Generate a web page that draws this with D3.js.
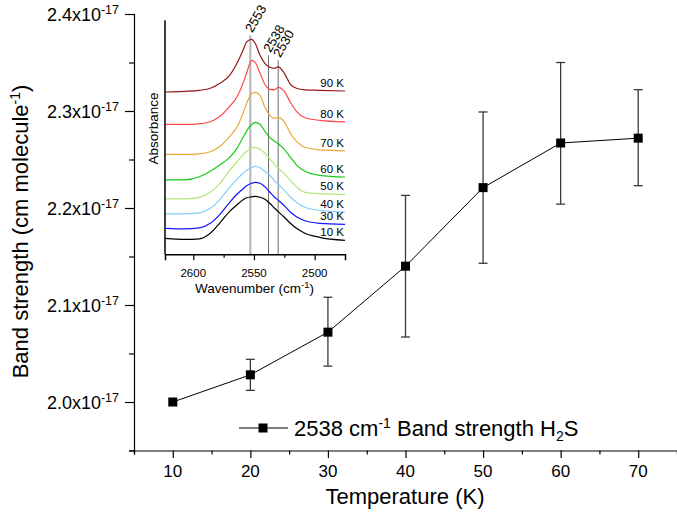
<!DOCTYPE html>
<html><head><meta charset="utf-8">
<script src="https://cdn.jsdelivr.net/npm/d3@7"></script>
<style>
body{margin:0;background:#fff;}
svg{display:block;font-family:"Liberation Sans",Arial,sans-serif;}
</style></head><body>
<svg id="chart" width="677" height="517"></svg>
<script>
// ---- main chart data (band strength in units of 1e-17 cm molecule^-1)
const temperatures = [10, 20, 30, 40, 50, 60, 70];
const bandStrength = [2.000, 2.028, 2.072, 2.140, 2.221, 2.267, 2.272];
const errUpper = [0, 0.016, 0.036, 0.073, 0.078, 0.083, 0.050];
const errLower = [0, 0.016, 0.035, 0.073, 0.078, 0.063, 0.049];
const xTickValues = [10, 20, 30, 40, 50, 60, 70];
const yTickValues = [2.0, 2.1, 2.2, 2.3, 2.4];
const yTickExponent = "-17";

// ---- inset spectra data (absorbance, arbitrary units incl. offsets)
const wavenumbers = [2623, 2607, 2595, 2586, 2578, 2570, 2564, 2559, 2556, 2552, 2549, 2545, 2541, 2537, 2533, 2530, 2525, 2520, 2515, 2508, 2496, 2475];
const spectrumLabels = ["10 K", "30 K", "40 K", "50 K", "60 K", "70 K", "80 K", "90 K"];
const abs10K = [0.16, 0.15, 0.155, 0.21, 0.315, 0.43, 0.495, 0.545, 0.565, 0.575, 0.58, 0.57, 0.55, 0.51, 0.46, 0.427, 0.37, 0.31, 0.26, 0.21, 0.17, 0.14];
const abs30K = [0.26, 0.255, 0.265, 0.31, 0.40, 0.52, 0.60, 0.655, 0.685, 0.71, 0.72, 0.71, 0.675, 0.623, 0.57, 0.54, 0.485, 0.423, 0.375, 0.335, 0.31, 0.30];
const abs40K = [0.405, 0.405, 0.415, 0.46, 0.55, 0.67, 0.75, 0.81, 0.84, 0.865, 0.88, 0.865, 0.83, 0.79, 0.735, 0.70, 0.64, 0.573, 0.52, 0.47, 0.44, 0.423];
const abs50K = [0.555, 0.555, 0.57, 0.62, 0.71, 0.84, 0.925, 0.995, 1.03, 1.06, 1.07, 1.05, 1.01, 0.957, 0.90, 0.865, 0.805, 0.74, 0.675, 0.62, 0.607, 0.60];
const abs60K = [0.745, 0.745, 0.775, 0.83, 0.895, 0.97, 1.06, 1.17, 1.235, 1.295, 1.32, 1.30, 1.23, 1.17, 1.13, 1.105, 1.05, 0.97, 0.895, 0.83, 0.79, 0.773];
const abs70K = [1.00, 1.00, 1.005, 1.025, 1.08, 1.18, 1.27, 1.41, 1.51, 1.605, 1.62, 1.59, 1.47, 1.39, 1.36, 1.367, 1.325, 1.21, 1.13, 1.07, 1.045, 1.035];
const abs80K = [1.30, 1.30, 1.305, 1.325, 1.38, 1.48, 1.573, 1.71, 1.815, 1.94, 1.92, 1.81, 1.70, 1.65, 1.645, 1.67, 1.63, 1.52, 1.43, 1.365, 1.34, 1.325];
const abs90K = [1.623, 1.63, 1.64, 1.66, 1.71, 1.79, 1.91, 2.04, 2.125, 2.15, 2.11, 1.99, 1.91, 1.87, 1.86, 1.875, 1.81, 1.70, 1.66, 1.645, 1.64, 1.633];
const peakPositions = [2553, 2538, 2530];
const peakLabels = ["2553", "2538", "2530"];
const peakLineTops = [2.19, 1.99, 1.94];
const insetXTickValues = [2600, 2550, 2500];
const insetMinorTicks = [2575, 2525];

// ---- styles
const spectrumColors = ["#000000", "#1414ff", "#87cdfa", "#b5e67c", "#16cc16", "#e9a83a", "#ff4a4a", "#961818"];
const peakLineColors = ["#b4b4b4", "#6e6e6e", "#8e8e8e"];
const peakLineWidths = [2, 1, 1.3];

const svg = d3.select("#chart");

// ================= main chart =================
const x = d3.scaleLinear().domain([5, 75]).range([134, 677]);
const y = d3.scaleLinear().domain([1.95, 2.4]).range([450.5, 14]);

// x axis
const gx = svg.append("g").attr("transform", `translate(0,${y(1.95)})`);
gx.call(d3.axisBottom(x).tickValues(d3.range(5, 76, 5)).tickSize(4).tickFormat(""))
  .call(g => g.select(".domain").attr("stroke", "#000").attr("stroke-width", 1.2));
gx.selectAll(".tick line").attr("stroke", "#000").attr("stroke-width", 1.2)
  .attr("y2", d => xTickValues.includes(d) ? 7.5 : 4);
gx.selectAll("text.xl").data(xTickValues).join("text").attr("class", "xl")
  .attr("x", d => x(d)).attr("y", 26).attr("text-anchor", "middle")
  .attr("font-size", 17).attr("fill", "#000").text(d => d);

// y axis
const gy = svg.append("g").attr("transform", `translate(${x(5)},0)`);
gy.call(d3.axisLeft(y).tickValues(d3.range(1.95, 2.401, 0.05)).tickSize(5).tickFormat(""))
  .call(g => g.select(".domain").attr("stroke", "#000").attr("stroke-width", 1.2));
gy.selectAll(".tick line").attr("stroke", "#000").attr("stroke-width", 1.2)
  .attr("x2", d => yTickValues.some(v => Math.abs(v - d) < 1e-6) ? -9 : -5);

const yl = svg.append("g").selectAll("text").data(yTickValues).join("text")
  .attr("x", 119).attr("y", d => y(d) + 6.5).attr("text-anchor", "end")
  .attr("font-size", 18).attr("fill", "#000");
yl.append("tspan").text(d => d.toFixed(1) + "x10");
yl.append("tspan").attr("dy", -7).attr("font-size", 12.5).text(yTickExponent);

// axis titles
svg.append("text").attr("x", 405).attr("y", 504).attr("text-anchor", "middle")
  .attr("font-size", 22).attr("fill", "#000").text("Temperature (K)");
const yt = svg.append("text").attr("transform", "translate(28,231.5) rotate(-90)")
  .attr("text-anchor", "middle").attr("font-size", 22).attr("fill", "#000");
yt.append("tspan").text("Band strength (cm molecule");
yt.append("tspan").attr("dy", -8).attr("font-size", 14).text("-1");
yt.append("tspan").attr("dy", 8).text(")");

// data
const pts = temperatures.map((t, i) => ({t, v: bandStrength[i], up: errUpper[i], lo: errLower[i]}));
svg.append("path").datum(pts)
  .attr("d", d3.line().x(d => x(d.t)).y(d => y(d.v)))
  .attr("fill", "none").attr("stroke", "#000").attr("stroke-width", 1);
const eb = svg.append("g").selectAll("g").data(pts.filter(d => d.up > 0 || d.lo > 0)).join("g")
  .attr("stroke", "#3a3a3a").attr("stroke-width", 1.3);
eb.append("line").attr("x1", d => x(d.t)).attr("x2", d => x(d.t))
  .attr("y1", d => y(d.v + d.up)).attr("y2", d => y(d.v - d.lo));
eb.append("line").attr("x1", d => x(d.t) - 4.5).attr("x2", d => x(d.t) + 4.5)
  .attr("y1", d => y(d.v + d.up)).attr("y2", d => y(d.v + d.up));
eb.append("line").attr("x1", d => x(d.t) - 4.5).attr("x2", d => x(d.t) + 4.5)
  .attr("y1", d => y(d.v - d.lo)).attr("y2", d => y(d.v - d.lo));
svg.append("g").selectAll("rect").data(pts).join("rect")
  .attr("x", d => x(d.t) - 4.5).attr("y", d => y(d.v) - 4.5)
  .attr("width", 9).attr("height", 9).attr("fill", "#000");

// legend
const lg = svg.append("g").attr("transform", "translate(239,428)");
lg.append("line").attr("x1", 0).attr("x2", 49).attr("y1", 0).attr("y2", 0).attr("stroke", "#000").attr("stroke-width", 1);
lg.append("rect").attr("x", 24 - 4.5).attr("y", -4.5).attr("width", 9).attr("height", 9).attr("fill", "#000");
const lt = lg.append("text").attr("x", 55).attr("y", 8).attr("font-size", 22).attr("fill", "#000");
lt.append("tspan").text("2538 cm");
lt.append("tspan").attr("dy", -8).attr("font-size", 14).text("-1");
lt.append("tspan").attr("dy", 8).text(" Band strength H");
lt.append("tspan").attr("dy", 5).attr("font-size", 14).text("2");
lt.append("tspan").attr("dy", -5).text("S");

// ================= inset =================
const xi = d3.scaleLinear().domain([2623.3, 2475]).range([165, 345]);
const yi = d3.scaleLinear().domain([0, 2.34]).range([254.3, 20.3]);
const spectra = [abs10K, abs30K, abs40K, abs50K, abs60K, abs70K, abs80K, abs90K];

svg.append("defs").append("clipPath").attr("id", "insetClip")
  .append("rect").attr("x", 165).attr("y", 0).attr("width", 180).attr("height", 254.3);

// peak marker lines
svg.append("g").selectAll("line").data(peakPositions).join("line")
  .attr("x1", d => xi(d)).attr("x2", d => xi(d))
  .attr("y1", yi(0)).attr("y2", (d, i) => yi(peakLineTops[i]))
  .attr("stroke", (d, i) => peakLineColors[i]).attr("stroke-width", (d, i) => peakLineWidths[i]);

const line = d3.line().x(d => xi(d[0])).y(d => yi(d[1])).curve(d3.curveMonotoneX);
svg.append("g").attr("clip-path", "url(#insetClip)").selectAll("path").data(spectra).join("path")
  .attr("d", s => line(wavenumbers.map((w, i) => [w, s[i]])))
  .attr("fill", "none").attr("stroke", (s, i) => spectrumColors[i]).attr("stroke-width", 1.2);

// spectrum labels
svg.append("g").selectAll("text").data(spectra).join("text")
  .attr("x", 344).attr("y", s => yi(s[s.length - 1]) - 4).attr("text-anchor", "end")
  .attr("font-size", 11.5).attr("fill", "#000").text((s, i) => spectrumLabels[i]);

// peak labels
svg.append("g").selectAll("text").data(peakPositions).join("text")
  .attr("transform", (d, i) => `translate(${xi(d) + 2},${yi(peakLineTops[i]) - 2}) rotate(-60)`)
  .attr("font-size", 13).attr("fill", "#000").text((d, i) => peakLabels[i]);

// inset axes
const gix = svg.append("g").attr("transform", `translate(0,${yi(0)})`);
gix.call(d3.axisBottom(xi).tickValues(insetXTickValues.concat(insetMinorTicks)).tickSize(6).tickFormat(""))
  .call(g => g.select(".domain").attr("stroke", "#000").attr("stroke-width", 1.5));
gix.selectAll(".tick line").attr("stroke", "#000").attr("stroke-width", 1.2)
  .attr("y2", d => insetXTickValues.includes(d) ? 6 : 3.5);
gix.selectAll("text.il").data(insetXTickValues).join("text").attr("class", "il")
  .attr("x", d => xi(d)).attr("y", 22.5).attr("text-anchor", "middle")
  .attr("font-size", 11.5).attr("fill", "#000").text(d => d);
svg.append("line").attr("x1", 165).attr("x2", 165).attr("y1", yi(2.34)).attr("y2", yi(0))
  .attr("stroke", "#000").attr("stroke-width", 1.5);

const wt = svg.append("text").attr("x", 254.5).attr("y", 293).attr("text-anchor", "middle")
  .attr("font-size", 13.5).attr("fill", "#000");
wt.append("tspan").text("Wavenumber (cm");
wt.append("tspan").attr("dy", -5).attr("font-size", 9.5).text("-1");
wt.append("tspan").attr("dy", 5).text(")");
svg.append("text").attr("transform", "translate(158,128.5) rotate(-90)").attr("text-anchor", "middle")
  .attr("font-size", 13.5).attr("fill", "#000").text("Absorbance");
</script>
</body></html>
